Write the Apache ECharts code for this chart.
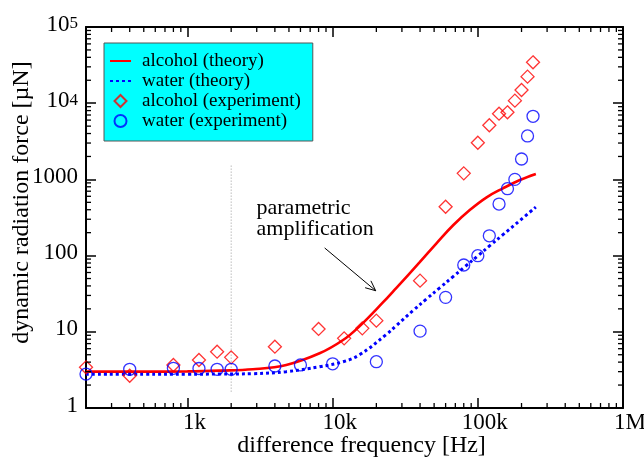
<!DOCTYPE html>
<html><head><meta charset="utf-8">
<script src="https://cdn.jsdelivr.net/npm/echarts@6/dist/echarts.min.js"></script>
<style>html,body{margin:0;padding:0;background:#fff}#c{width:644px;height:459px}</style>
</head><body><div id="c"></div>
<script>
// ---- data ----
const alcoholTheoryFreq = [200, 500, 1000, 1660, 2820, 4790, 8130, 11800, 15300, 22200, 27500, 39800, 51900, 67600, 88000, 115000, 149000, 195000, 251000];
const alcoholTheory     = [3.0, 3.0, 3.02, 3.09, 3.22, 3.67, 5.22, 7.8, 11.8, 24.3, 37.8, 82, 145, 250, 396, 582, 764, 982, 1177];
const waterTheoryFreq = [200, 500, 1000, 1660, 2820, 4790, 8130, 11800, 15300, 23300, 27500, 35800, 44200, 54700, 67600, 81300, 100500, 121000, 149000, 195000, 251000];
const waterTheory     = [2.78, 2.78, 2.78, 2.79, 2.82, 3.0, 3.48, 4.05, 4.98, 9.14, 12.1, 19.0, 26.9, 37.8, 53.1, 71.3, 100, 135, 188, 289, 434];
const alcoholExpFreq = [200, 400, 800, 1200, 1600, 2000, 4000, 8000, 12000, 16000, 20000, 40000, 60000, 80000, 100000, 120000, 140000, 160000, 180000, 200000, 220000, 240000];
const alcoholExp     = [3.42, 2.65, 3.67, 4.26, 5.48, 4.62, 6.38, 10.9, 8.2, 11.1, 14, 46.9, 438, 1200, 3030, 5130, 7280, 7590, 10800, 14900, 22300, 34400];
const waterExpFreq = [200, 400, 800, 1200, 1600, 2000, 4000, 6000, 10000, 20000, 40000, 60000, 80000, 100000, 120000, 140000, 160000, 180000, 200000, 220000, 240000];
const waterExp     = [2.79, 3.22, 3.32, 3.3, 3.22, 3.22, 3.56, 3.67, 3.8, 4.05, 10.2, 28.3, 75.3, 99.7, 182, 475, 755, 1000, 1853, 3715, 6730];
const seriesNames = ['alcohol (theory)', 'water (theory)', 'alcohol (experiment)', 'water (experiment)'];
const xTickValues = [1000, 10000, 100000, 1000000];
const xTickLabels = ['1k', '10k', '100k', '1M'];
const yTickValues = [1, 10, 100, 1000, 10000, 100000];
const yTickLabels = ['1', '10', '100', '1000', '10^4', '10^5'];
const minorMultipliers = [2, 3, 4, 5, 6, 7, 8, 9];
const xDecades = [100, 1000, 10000, 100000];
const yDecades = [1, 10, 100, 1000, 10000];
const markerFreq = [2000, 2000];
const markerForce = [1.64, 1550];
const annotationText = 'parametric\namplification';
const annotationPos = [2990, 302];
const arrowFrom = [8810, 126];
const arrowTo = [19800, 34.6];
const X_MIN = 200, X_MAX = 1000000, Y_MIN = 1, Y_MAX = 100000;

const FONT = '"Liberation Serif", "Times New Roman", serif';
const zip = (a, b) => a.map((v, i) => [v, b[i]]);
const same = (a, b) => Math.abs(Math.log10(a) - Math.log10(b)) < 1e-6;

const xMinor = [];
xDecades.forEach(d => minorMultipliers.forEach(m => { const v = d * m; if (v > X_MIN && v < X_MAX) xMinor.push([v, 1]); }));
const yMinor = [];
yDecades.forEach(d => minorMultipliers.forEach(m => { const v = d * m; if (v > Y_MIN && v < Y_MAX) yMinor.push([X_MIN, v]); }));

function xLabel(v) {
  const i = xTickValues.findIndex(t => same(t, v));
  return i < 0 ? '' : xTickLabels[i];
}
function yLabel(v) {
  const i = yTickValues.findIndex(t => same(t, v));
  if (i < 0) return '';
  const s = yTickLabels[i];
  if (s.indexOf('^') >= 0) { const p = s.split('^'); return '{b|' + p[0] + '}{s|' + p[1] + '}'; }
  return '{b|' + s + '}';
}

const axisCommon = {
  type: 'log', logBase: 10,
  axisLine: { show: true, lineStyle: { color: '#000', width: 2 } },
  axisTick: { show: true, inside: true, length: 10, lineStyle: { color: '#000', width: 1.5 } },
  splitLine: { show: false },
  minorTick: { show: false }
};

const tickStyle = { stroke: '#000', lineWidth: 1.3 };
const DIAMOND = 'path://M0,-1L1,0L0,1L-1,0Z';

const option = {
  animation: false,
  backgroundColor: '#fff',
  grid: { left: 86, top: 27, width: 537, height: 381, containLabel: false, outerBoundsMode: 'none' },
  xAxis: [
    Object.assign({}, axisCommon, {
      position: 'bottom', min: X_MIN, max: X_MAX,
      name: 'difference frequency [Hz]', nameLocation: 'middle', nameGap: 26, nameMoveOverlap: false,
      nameTextStyle: { fontFamily: FONT, fontSize: 24, color: '#000', padding: [0, 0, 0, 14] },
      axisLabel: { show: true, formatter: xLabel, fontFamily: FONT, fontSize: 23, color: '#000', margin: 3, padding: [0, 0, 0, 14], showMinLabel: true, showMaxLabel: true, hideOverlap: false }
    }),
    Object.assign({}, axisCommon, { position: 'top', min: X_MIN, max: X_MAX, axisLabel: { show: false } })
  ],
  yAxis: [
    Object.assign({}, axisCommon, {
      position: 'left', min: Y_MIN, max: Y_MAX,
      name: 'dynamic radiation force [\u00b5N]', nameLocation: 'middle', nameGap: 52, nameMoveOverlap: false,
      nameTextStyle: { fontFamily: FONT, fontSize: 24, color: '#000', padding: [0, 0, 0, 30] },
      axisLabel: {
        show: true, formatter: yLabel, margin: 8, color: '#000', showMinLabel: true, showMaxLabel: true, hideOverlap: false,
        rich: {
          b: { fontFamily: FONT, fontSize: 23, color: '#000', lineHeight: 23, padding: [0, 0, 5, 0] },
          s: { fontFamily: FONT, fontSize: 17, color: '#000', lineHeight: 17, verticalAlign: 'top' }
        }
      }
    }),
    Object.assign({}, axisCommon, { position: 'right', min: Y_MIN, max: Y_MAX, axisLabel: { show: false } })
  ],
  legend: {
    data: [
      { name: seriesNames[0], itemStyle: { opacity: 0 } },
      { name: seriesNames[1], itemStyle: { opacity: 0 } },
      { name: seriesNames[2], icon: DIAMOND },
      { name: seriesNames[3], icon: 'circle' }
    ],
    orient: 'vertical', left: 104, top: 43,
    backgroundColor: '#00ffff', borderColor: '#555', borderWidth: 1,
    padding: [8, 12, 10, 5],
    itemWidth: 21, itemHeight: 12, itemGap: 0,
    textStyle: { fontFamily: FONT, fontSize: 19, color: '#000', lineHeight: 20, padding: [0, 0, 0, 6] },
    selectedMode: false
  },
  series: [
    { name: seriesNames[0], type: 'line', data: zip(alcoholTheoryFreq, alcoholTheory), symbol: 'none', smooth: 0.4,
      color: '#ff0000', lineStyle: { color: '#ff0000', width: 2.6 }, z: 3 },
    { name: seriesNames[1], type: 'line', data: zip(waterTheoryFreq, waterTheory), symbol: 'none', smooth: 0.4,
      color: '#0000ff', lineStyle: { color: '#0000ff', width: 3, type: [3, 3] }, z: 3 },
    { name: seriesNames[2], type: 'scatter', data: zip(alcoholExpFreq, alcoholExp), symbol: 'diamond', symbolSize: 13,
      color: '#ff0000', itemStyle: { color: 'rgba(255,255,255,0)', borderColor: '#ff0000', borderWidth: 1.3 }, z: 4 },
    { name: seriesNames[3], type: 'scatter', data: zip(waterExpFreq, waterExp), symbol: 'circle', symbolSize: 12,
      color: '#0000ff', itemStyle: { color: 'rgba(255,255,255,0)', borderColor: '#0000ff', borderWidth: 1.3 }, z: 4 },
    { name: 'marker', type: 'line', data: zip(markerFreq, markerForce), symbol: 'none', silent: true,
      lineStyle: { color: '#999', width: 1, type: [1, 2] }, z: 1 },
    { name: 'xminor', type: 'custom', data: xMinor, silent: true, clip: false, z: 5,
      renderItem: (params, api) => {
        const cs = params.coordSys; const x = api.coord([api.value(0), 1])[0];
        const b = cs.y + cs.height, t = cs.y;
        return { type: 'group', children: [
          { type: 'line', shape: { x1: x, y1: b, x2: x, y2: b - 5 }, style: tickStyle },
          { type: 'line', shape: { x1: x, y1: t, x2: x, y2: t + 5 }, style: tickStyle } ] };
      } },
    { name: 'yminor', type: 'custom', data: yMinor, silent: true, clip: false, z: 5,
      renderItem: (params, api) => {
        const cs = params.coordSys; const y = api.coord([X_MIN, api.value(1)])[1];
        const l = cs.x, r = cs.x + cs.width;
        return { type: 'group', children: [
          { type: 'line', shape: { x1: l, y1: y, x2: l + 5, y2: y }, style: tickStyle },
          { type: 'line', shape: { x1: r, y1: y, x2: r - 5, y2: y }, style: tickStyle } ] };
      } },
    { name: 'annotation', type: 'custom', data: [[arrowFrom[0], arrowFrom[1], arrowTo[0], arrowTo[1], annotationPos[0], annotationPos[1]]],
      silent: true, clip: false, z: 6, encode: { x: [0, 2, 4], y: [1, 3, 5] },
      renderItem: (params, api) => {
        const p1 = api.coord([api.value(0), api.value(1)]);
        const p2 = api.coord([api.value(2), api.value(3)]);
        const pt = api.coord([api.value(4), api.value(5)]);
        const ang = Math.atan2(p2[1] - p1[1], p2[0] - p1[0]);
        const L = 11, A = 0.42;
        const h1 = [p2[0] - L * Math.cos(ang - A), p2[1] - L * Math.sin(ang - A)];
        const h2 = [p2[0] - L * Math.cos(ang + A), p2[1] - L * Math.sin(ang + A)];
        return { type: 'group', children: [
          { type: 'line', shape: { x1: p1[0], y1: p1[1], x2: p2[0], y2: p2[1] }, style: { stroke: '#000', lineWidth: 1 } },
          { type: 'polyline', shape: { points: [h1, p2, h2] }, style: { stroke: '#000', lineWidth: 1, fill: null } },
          { type: 'text', x: pt[0], y: pt[1], style: { text: annotationText, font: '22px ' + FONT, fill: '#000', textAlign: 'left', textVerticalAlign: 'middle', lineHeight: 21 } }
        ] };
      } }
  ]
};

const chart = echarts.init(document.getElementById('c'), null, { renderer: 'canvas' });
chart.setOption(option);
</script>
</body></html>
